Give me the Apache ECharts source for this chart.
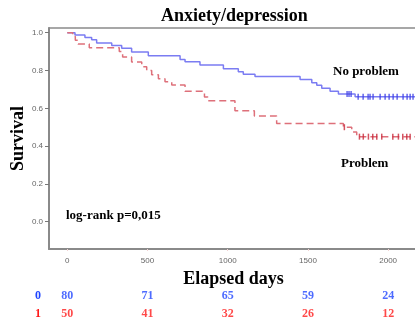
<!DOCTYPE html>
<html>
<head>
<meta charset="utf-8">
<script src="https://cdn.jsdelivr.net/npm/echarts@6/dist/echarts.min.js"></script>
<style>
html,body{margin:0;padding:0;background:#fff;}
#c{width:415px;height:323px;}
</style>
</head>
<body>
<div id="c"></div>
<script>
// Kaplan-Meier steps: [elapsed day, survival]
const noProblemSteps = [
  [0,1.0],[48,0.9875],[110,0.975],[152,0.9625],[183,0.945],[277,0.932],[339,0.918],
  [401,0.898],[505,0.878],[703,0.858],[734,0.846],[827,0.829],[973,0.81],[1066,0.794],
  [1097,0.78],[1170,0.768],[1451,0.753],[1524,0.735],[1555,0.722],[1586,0.706],
  [1638,0.69],[1690,0.676],[1794,0.661],[2186,0.661]
];
const problemSteps = [
  [0,1.0],[34,0.98],[50,0.96],[67,0.94],[137,0.92],[324,0.90],[345,0.872],[401,0.845],
  [464,0.82],[495,0.80],[526,0.778],[568,0.757],[609,0.74],[651,0.723],[734,0.69],
  [855,0.66],[876,0.64],[1045,0.587],[1166,0.559],[1305,0.52],[1721,0.50],[1773,0.475],
  [1804,0.45],[2186,0.45]
];
// censored observations: [day, survival]
const noProblemCensored = [
  [1744,0.676],[1756,0.676],[1769,0.676],[1813,0.661],[1844,0.661],[1875,0.661],[1887,0.661],
  [1906,0.661],[1950,0.661],[1981,0.661],[2006,0.661],[2031,0.661],[2056,0.661],[2093,0.661],
  [2118,0.661],[2137,0.661],[2155,0.661]
];
const problemCensored = [
  [1727,0.50],[1821,0.45],[1845,0.45],[1877,0.45],[1904,0.45],[1929,0.45],[1960,0.45],
  [2029,0.45],[2064,0.45],[2091,0.45],[2116,0.45],[2137,0.45]
];
// numbers at risk
const riskDays = [0,500,1000,1500,2000];
const riskGroups = ['0','1'];
const riskNoProblem = [80,71,65,59,24];
const riskProblem = [50,41,32,26,12];

const SERIF = '"Liberation Serif","DejaVu Serif",serif';
const SANS = '"Liberation Sans",Arial,sans-serif';
const BLUE_LINE = '#7b7cf2';
const BLUE_MARK = '#3c3fe6';
const RED_LINE = '#de707a';
const RED_MARK = '#c8283a';
const BLUE_TXT = '#2046ff';
const RED_TXT = '#ff1a1a';
const X_MIN = -114, X_MAX = 2186;

const chart = echarts.init(document.getElementById('c'), null, {renderer:'canvas'});
const riskData = [];
riskDays.forEach((d,i)=>{
  riskData.push({value:[d,'0',riskNoProblem[i]], label:{color:BLUE_TXT}});
  riskData.push({value:[d,'1',riskProblem[i]], label:{color:RED_TXT}});
});

chart.setOption({
  animation:false,
  backgroundColor:'#fff',
  title:{
    text:'Anxiety/depression', left:156, top:2,
    textStyle:{fontFamily:SERIF, fontWeight:'bold', fontSize:18, color:'#000'}
  },
  grid:[
    {left:49, right:-3, top:28, bottom:74, show:false, containLabel:false, outerBoundsMode:'none'},
    {left:49, right:-3, top:287, height:36, show:false, containLabel:false, outerBoundsMode:'none'}
  ],
  xAxis:[
    {type:'value', gridIndex:0, min:X_MIN, max:X_MAX,
     name:'Elapsed days', nameLocation:'middle', nameGap:19,
     nameTextStyle:{fontFamily:SERIF, fontWeight:'bold', fontSize:18, color:'#000'},
     splitLine:{show:false},
     axisLine:{show:true, onZero:false, lineStyle:{color:'#8a8a8a', width:2}},
     axisTick:{show:true, length:2, lineStyle:{color:'#f2d2d2'}},
     axisLabel:{margin:8, fontSize:8, fontFamily:SANS, color:'#666', showMinLabel:false, showMaxLabel:false,
       formatter:v=> (Math.abs(v%500)<1e-6 && v>=0 && v<=2000) ? String(v) : ''}
    },
    {type:'value', gridIndex:1, min:X_MIN, max:X_MAX, show:false},
    {type:'value', gridIndex:0, min:X_MIN, max:X_MAX, position:'top',
     axisLine:{show:true, onZero:false, lineStyle:{color:'#8a8a8a', width:1.5}},
     axisTick:{show:false}, axisLabel:{show:false}, splitLine:{show:false}}
  ],
  yAxis:[
    {type:'value', gridIndex:0, min:-0.1445, max:1.025,
     name:'Survival', nameLocation:'middle', nameGap:22, nameRotate:90, nameMoveOverlap:false,
     nameTextStyle:{fontFamily:SERIF, fontWeight:'bold', fontSize:18, color:'#000'},
     splitLine:{show:false},
     axisLine:{show:true, onZero:false, lineStyle:{color:'#8a8a8a', width:2}},
     axisTick:{show:true, length:4, lineStyle:{color:'#777'}},
     axisLabel:{margin:6, fontSize:8, fontFamily:SANS, color:'#666', showMinLabel:false, showMaxLabel:false,
       formatter:v=> (v>=-1e-9 && v<=1.0001 && Math.abs(Math.round(v*10)-v*10)<1e-6) ? v.toFixed(1) : ''}
    },
    {type:'category', gridIndex:1, data:riskGroups, inverse:true,
     axisLine:{show:false}, axisTick:{show:false}, splitLine:{show:false},
     axisLabel:{margin:8, fontFamily:SERIF, fontWeight:'bold', fontSize:12,
       formatter:v=> v==='0' ? '{b|0}' : '{r|1}',
       rich:{b:{color:BLUE_TXT, fontFamily:SERIF, fontWeight:'bold', fontSize:12},
             r:{color:RED_TXT, fontFamily:SERIF, fontWeight:'bold', fontSize:12}}}
    }
  ],
  series:[
    {type:'line', name:'No problem', xAxisIndex:0, yAxisIndex:0, step:'end', data:noProblemSteps,
     showSymbol:false, symbol:'none', lineStyle:{color:BLUE_LINE, width:1.5}, z:3},
    {type:'line', name:'Problem', xAxisIndex:0, yAxisIndex:0, step:'end', data:problemSteps,
     showSymbol:false, symbol:'none', lineStyle:{color:RED_LINE, width:1.5, type:[7,4]}, z:3},
    {type:'scatter', xAxisIndex:0, yAxisIndex:0, data:noProblemCensored, symbol:'rect',
     symbolSize:[1.5,6], itemStyle:{color:BLUE_MARK}, z:4},
    {type:'scatter', xAxisIndex:0, yAxisIndex:0, data:problemCensored, symbol:'rect',
     symbolSize:[1.5,6], itemStyle:{color:RED_MARK}, z:4},
    {type:'scatter', xAxisIndex:1, yAxisIndex:1, data:riskData, symbolSize:1,
     itemStyle:{color:'rgba(0,0,0,0)'}, silent:true,
     label:{show:true, position:'inside', formatter:p=>String(p.value[2]),
       fontFamily:SERIF, fontWeight:'bold', fontSize:12}}
  ],
  graphic:[
    {type:'text', left:333, top:65, style:{text:'No problem', font:'bold 13px '+SERIF, fill:'#000'}},
    {type:'text', left:341, top:157, style:{text:'Problem', font:'bold 13px '+SERIF, fill:'#000'}},
    {type:'text', left:66, top:209, style:{text:'log-rank p=0,015', font:'bold 13px '+SERIF, fill:'#000'}}
  ]
});
</script>
</body>
</html>
